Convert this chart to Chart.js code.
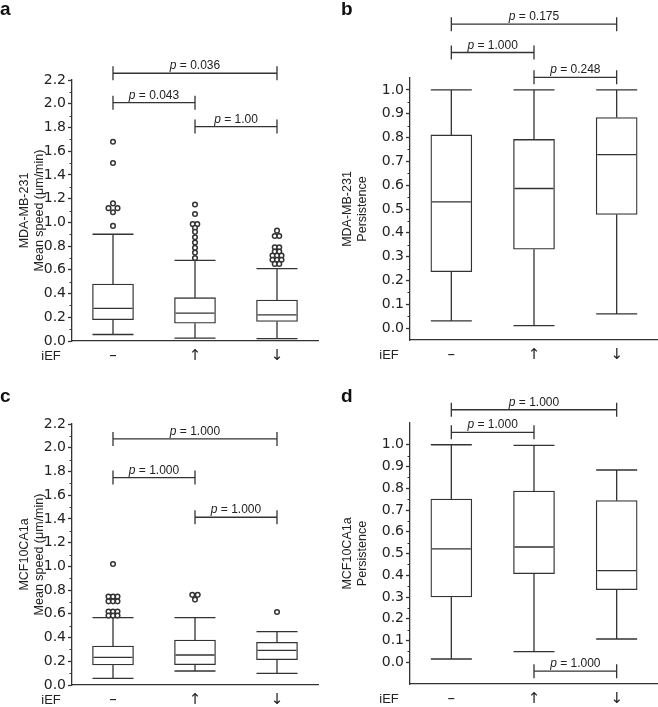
<!DOCTYPE html>
<html>
<head>
<meta charset="utf-8">
<script src="https://cdn.jsdelivr.net/npm/chart.js@4.4.1/dist/chart.umd.min.js"></script>
<style>
  body { margin: 0; background: #fff; width: 658px; height: 707px; position: relative; overflow: hidden; }
  canvas { position: absolute; }
</style>
</head>
<body>
<canvas id="panelA" width="329" height="366" style="left:0;top:0"></canvas>
<canvas id="panelB" width="330" height="366" style="left:328px;top:0"></canvas>
<canvas id="panelC" width="329" height="357" style="left:0;top:350px"></canvas>
<canvas id="panelD" width="330" height="357" style="left:328px;top:350px"></canvas>
<script>
// categories (iEF condition)
const groups = ['–', '↑', '↓'];
const speedTicks = [0, 0.2, 0.4, 0.6, 0.8, 1.0, 1.2, 1.4, 1.6, 1.8, 2.0, 2.2];
const persistTicks = [0, 0.1, 0.2, 0.3, 0.4, 0.5, 0.6, 0.7, 0.8, 0.9, 1.0];

// a: MDA-MB-231 mean speed
const aLow = [0.055, 0.025, 0.02];
const aQ1 = [0.18, 0.15, 0.165];
const aMed = [0.275, 0.235, 0.22];
const aQ3 = [0.48, 0.365, 0.345];
const aHigh = [0.90, 0.68, 0.61];
const aOutGroup = [0, 0, 0, 0, 0, 0, 0,
                   1, 1, 1, 1, 1, 1, 1, 1, 1, 1, 1,
                   2, 2, 2, 2, 2, 2, 2, 2, 2, 2, 2, 2, 2, 2, 2];
const aOutValue = [1.68, 1.50, 1.16, 1.12, 1.12, 1.085, 0.97,
                   1.15, 1.07, 0.985, 0.985, 0.955, 0.92, 0.875, 0.83, 0.785, 0.745, 0.70,
                   0.93, 0.885, 0.885, 0.79, 0.79, 0.755, 0.755, 0.72, 0.72, 0.72, 0.685, 0.685, 0.685, 0.65, 0.65];
const aOutCol = [0, 0, 0, -1, 1, 0, 0,
                 0, 0, -0.5, 0.5, 0, 0, 0, 0, 0, 0, 0,
                 0, -0.5, 0.5, -0.5, 0.5, -0.5, 0.5, -1, 0, 1, -1, 0, 1, -0.5, 0.5];
const aPairFrom = [0, 0, 1];
const aPairTo = [2, 1, 2];
const aPairLevel = [2.257, 2.009, 1.807];
const aPairP = ['0.036', '0.043', '1.00'];

// b: MDA-MB-231 persistence
const bLow = [0.03, 0.01, 0.06];
const bQ1 = [0.237, 0.331, 0.477];
const bMed = [0.53, 0.586, 0.728];
const bQ3 = [0.811, 0.792, 0.884];
const bHigh = [1.0, 1.0, 1.0];
const bPairFrom = [0, 0, 1];
const bPairTo = [2, 1, 2];
const bPairLevel = [1.276, 1.157, 1.053];
const bPairP = ['0.175', '1.000', '0.248'];

// c: MCF10CA1a mean speed
const cLow = [0.056, 0.118, 0.098];
const cQ1 = [0.169, 0.171, 0.214];
const cMed = [0.233, 0.253, 0.292];
const cQ3 = [0.329, 0.379, 0.36];
const cHigh = [0.568, 0.568, 0.45];
const cOutGroup = [0, 0, 0, 0, 0, 0, 0, 0, 0, 0, 0, 0, 0, 1, 1, 1, 2];
const cOutValue = [1.02, 0.745, 0.745, 0.745, 0.705, 0.705, 0.705, 0.62, 0.62, 0.62, 0.585, 0.585, 0.585, 0.76, 0.76, 0.72, 0.615];
const cOutCol = [0, -1, 0, 1, -1, 0, 1, -1, 0, 1, -1, 0, 1, -0.6, 0.6, 0, 0];
const cPairFrom = [0, 0, 1];
const cPairTo = [2, 1, 2];
const cPairLevel = [2.074, 1.748, 1.414];
const cPairP = ['1.000', '1.000', '1.000'];

// d: MCF10CA1a persistence
const dLow = [0.015, 0.049, 0.107];
const dQ1 = [0.30, 0.407, 0.334];
const dMed = [0.521, 0.53, 0.421];
const dQ3 = [0.75, 0.787, 0.743];
const dHigh = [1.0, 0.997, 0.884];
const dPairFrom = [0, 0, 1];
const dPairTo = [2, 1, 2];
const dPairLevel = [1.161, 1.057, -0.041];
const dPairP = ['1.000', '1.000', '1.000'];

const INK = '#333';
const TEXT = '#222';
const FONT = '"Liberation Sans", Arial, Helvetica, sans-serif';
const WIDE_FONT = '"DejaVu Sans", "Liberation Sans", sans-serif';
Chart.defaults.font.family = FONT;
Chart.defaults.color = TEXT;

// whiskers, medians, brackets, letters
function boxExtras(p) {
  return {
    id: 'boxExtras',
    afterDatasetDraw(chart, args) {
      if (args.meta.type !== 'bar') return;
      const { ctx, scales: { x, y } } = chart;
      ctx.save();
      ctx.strokeStyle = INK;
      ctx.lineWidth = 1.3;
      args.meta.data.forEach((bar, i) => {
        const cx = x.getPixelForValue(i);
        const half = bar.width / 2;
        const yLo = y.getPixelForValue(p.low[i]);
        const yHi = y.getPixelForValue(p.high[i]);
        const yMed = y.getPixelForValue(p.med[i]);
        ctx.beginPath();
        ctx.moveTo(cx, y.getPixelForValue(p.q1[i])); ctx.lineTo(cx, yLo);
        ctx.moveTo(cx, y.getPixelForValue(p.q3[i])); ctx.lineTo(cx, yHi);
        ctx.moveTo(cx - half, yLo); ctx.lineTo(cx + half, yLo);
        ctx.moveTo(cx - half, yHi); ctx.lineTo(cx + half, yHi);
        ctx.moveTo(cx - half + 1, yMed); ctx.lineTo(cx + half - 1, yMed);
        ctx.stroke();
      });
      ctx.restore();
    },
    afterDraw(chart) {
      const { ctx, chartArea, scales: { x, y } } = chart;
      ctx.save();
      // minor ticks on y axis
      ctx.strokeStyle = INK;
      ctx.lineWidth = 1;
      ctx.beginPath();
      for (let k = 0; k < p.ticks.length - 1; k++) {
        const py = Math.round(y.getPixelForValue((p.ticks[k] + p.ticks[k + 1]) / 2)) + 0.5;
        ctx.moveTo(chartArea.left - 2.5, py); ctx.lineTo(chartArea.left, py);
      }
      ctx.stroke();

      // significance brackets
      ctx.lineWidth = 1.3;
      p.pairFrom.forEach((from, k) => {
        const x1 = x.getPixelForValue(from);
        const x2 = x.getPixelForValue(p.pairTo[k]);
        const py = y.getPixelForValue(p.pairLevel[k]);
        ctx.beginPath();
        ctx.moveTo(x1, py); ctx.lineTo(x2, py);
        ctx.moveTo(x1, py - 7); ctx.lineTo(x1, py + 7);
        ctx.moveTo(x2, py - 7); ctx.lineTo(x2, py + 7);
        ctx.stroke();
        const rest = ' = ' + p.pairP[k];
        ctx.font = 'italic 12px ' + FONT;
        const wP = ctx.measureText('p').width;
        ctx.font = '12px ' + FONT;
        const wR = ctx.measureText(rest).width;
        const sx = (x1 + x2) / 2 - (wP + wR) / 2;
        ctx.fillStyle = TEXT;
        ctx.textBaseline = 'alphabetic';
        ctx.textAlign = 'left';
        ctx.font = 'italic 12px ' + FONT;
        ctx.fillText('p', sx, py - 4);
        ctx.font = '12px ' + FONT;
        ctx.fillText(rest, sx + wP, py - 4);
      });

      // iEF row label
      ctx.font = '13px ' + FONT;
      ctx.textAlign = 'center';
      ctx.textBaseline = 'middle';
      ctx.fillText('iEF', chartArea.left - 21, x.top + 6 + 9);

      // panel letter
      ctx.font = 'bold 19px ' + FONT;
      ctx.textAlign = 'left';
      ctx.textBaseline = 'alphabetic';
      ctx.fillStyle = '#111';
      ctx.fillText(p.letter, p.letterX, p.letterY);
      ctx.restore();
    }
  };
}

function makePanel(id, p) {
  const outGroup = p.outGroup || [];
  const datasets = [{
    type: 'bar',
    order: 2,
    data: groups.map((g, i) => ({ x: i, y: [p.q1[i], p.q3[i]] })),
    backgroundColor: '#fff',
    borderColor: INK,
    borderWidth: 1.3,
    borderSkipped: false,
    barThickness: 41
  }];
  if (outGroup.length) {
    datasets.push({
      type: 'scatter',
      order: 1,
      data: p.outValue.map((v, k) => ({ x: outGroup[k] + p.outCol[k] * 0.055, y: v })),
      pointStyle: 'circle',
      pointRadius: 2.3,
      pointBorderWidth: 1.5,
      pointBackgroundColor: '#fff',
      pointBorderColor: INK
    });
  }
  new Chart(document.getElementById(id), {
    type: 'bar',
    data: { datasets },
    options: {
      responsive: false,
      animation: false,
      events: [],
      layout: { padding: { top: p.padTop, right: p.padRight, left: 0, bottom: 0 } },
      plugins: { legend: { display: false }, tooltip: { enabled: false } },
      scales: {
        x: {
          type: 'linear',
          min: -0.5,
          max: 2.5,
          offset: false,
          afterBuildTicks: s => { s.ticks = groups.map((g, i) => ({ value: i })); },
          afterFit: s => { s.height = p.xHeight; },
          ticks: { callback: v => groups[v], font: { size: 15, family: WIDE_FONT }, padding: 6, maxRotation: 0, autoSkip: false },
          grid: { drawOnChartArea: false, drawTicks: false },
          border: { color: INK, width: 1.3 }
        },
        y: {
          min: p.yMin,
          max: p.yMax,
          afterBuildTicks: s => { s.ticks = p.ticks.map(v => ({ value: v })); },
          afterFit: s => { s.width = p.yWidth; },
          ticks: { callback: v => v.toFixed(1), font: { size: 14, family: WIDE_FONT }, padding: 2 },
          grid: { drawOnChartArea: false, tickLength: 4, tickColor: INK, tickWidth: 1.3 },
          border: { color: INK, width: 1.3 },
          title: { display: true, text: p.title, font: { size: 12.5, lineHeight: 1.2 }, padding: { top: p.titlePad, bottom: 0 } }
        }
      }
    },
    plugins: [boxExtras(p)]
  });
}

makePanel('panelA', {
  low: aLow, q1: aQ1, med: aMed, q3: aQ3, high: aHigh,
  outGroup: aOutGroup, outValue: aOutValue, outCol: aOutCol,
  pairFrom: aPairFrom, pairTo: aPairTo, pairLevel: aPairLevel, pairP: aPairP,
  ticks: speedTicks, yMin: 0, yMax: 2.2,
  title: ['MDA-MB-231', 'Mean speed (μm/min)'], titlePad: 17.5,
  padTop: 80, padRight: 11, yWidth: 72, xHeight: 25,
  letter: 'a', letterX: 0, letterY: 15
});

makePanel('panelB', {
  low: bLow, q1: bQ1, med: bMed, q3: bQ3, high: bHigh,
  pairFrom: bPairFrom, pairTo: bPairTo, pairLevel: bPairLevel, pairP: bPairP,
  ticks: persistTicks, yMin: -0.05, yMax: 1.05,
  title: ['MDA-MB-231', 'Persistence'], titlePad: 12.5,
  padTop: 78, padRight: 0, yWidth: 82, xHeight: 26,
  letter: 'b', letterX: 13, letterY: 15
});

makePanel('panelC', {
  low: cLow, q1: cQ1, med: cMed, q3: cQ3, high: cHigh,
  outGroup: cOutGroup, outValue: cOutValue, outCol: cOutCol,
  pairFrom: cPairFrom, pairTo: cPairTo, pairLevel: cPairLevel, pairP: cPairP,
  ticks: speedTicks, yMin: 0, yMax: 2.2,
  title: ['MCF10CA1a', 'Mean speed (μm/min)'], titlePad: 17.5,
  padTop: 74, padRight: 11, yWidth: 72, xHeight: 22,
  letter: 'c', letterX: 0, letterY: 52
});

makePanel('panelD', {
  low: dLow, q1: dQ1, med: dMed, q3: dQ3, high: dHigh,
  pairFrom: dPairFrom, pairTo: dPairTo, pairLevel: dPairLevel, pairP: dPairP,
  ticks: persistTicks, yMin: -0.1, yMax: 1.1,
  title: ['MCF10CA1a', 'Persistence'], titlePad: 12.5,
  padTop: 73, padRight: 0, yWidth: 82, xHeight: 23,
  letter: 'd', letterX: 13, letterY: 52
});
</script>
</body>
</html>
